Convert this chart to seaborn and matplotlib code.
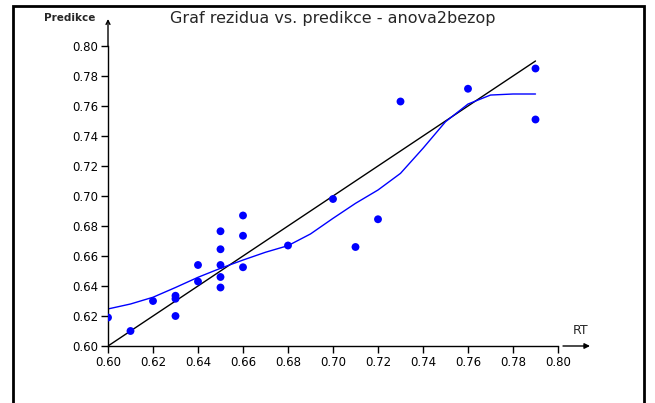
import matplotlib
matplotlib.use("Agg")
import matplotlib.pyplot as plt
import matplotlib.patches as mpatches
import numpy as np
import pandas as pd
import seaborn as sns

# pozorovane hodnoty RT a predikce
rt = [0.60, 0.61, 0.62, 0.63, 0.63, 0.63, 0.64, 0.64,
      0.65, 0.65, 0.65, 0.65, 0.65, 0.66, 0.66, 0.66,
      0.68, 0.70, 0.71, 0.72, 0.73, 0.76, 0.79, 0.79]
predikce = [0.619, 0.610, 0.630, 0.6335, 0.6315, 0.620, 0.654, 0.643,
            0.6765, 0.6645, 0.654, 0.646, 0.639, 0.687, 0.6735, 0.6525,
            0.667, 0.698, 0.666, 0.6845, 0.763, 0.7715, 0.785, 0.751]

# vyhlazena krivka
smooth_x = [0.60, 0.61, 0.62, 0.63, 0.64, 0.65, 0.66, 0.67, 0.68, 0.69,
            0.70, 0.71, 0.72, 0.73, 0.74, 0.75, 0.76, 0.77, 0.78, 0.79]
smooth_y = [0.6247, 0.628, 0.6325, 0.639, 0.6458, 0.6518, 0.6573, 0.6625, 0.6669, 0.6747,
            0.6851, 0.6951, 0.704, 0.7151, 0.7318, 0.7495, 0.7613, 0.7673, 0.768, 0.768]

# primka y = x
ident = [0.60, 0.79]

ticks = [0.60, 0.62, 0.64, 0.66, 0.68, 0.70, 0.72, 0.74, 0.76, 0.78, 0.80]

sns.set_style("ticks")
plt.rcParams['font.family'] = ['DejaVu Sans']

fig = plt.figure(figsize=(6.55, 4.03), dpi=100)
ax = fig.add_axes([108 / 655, 57 / 403, 450 / 655, 300 / 403])

df = pd.DataFrame({"RT": rt, "Predikce": predikce})
sm = pd.DataFrame({"x": smooth_x, "y": smooth_y})

sns.lineplot(x=ident, y=ident, color="black", lw=1, ax=ax)
sns.lineplot(data=sm, x="x", y="y", color="#0000ff", lw=1, ax=ax, sort=False)
sns.scatterplot(data=df, x="RT", y="Predikce", color="#0000ff", s=32, edgecolor="none", ax=ax, zorder=5)

ax.set_xlim(0.60, 0.80)
ax.set_ylim(0.60, 0.80)
ax.set_xticks(ticks)
ax.set_yticks(ticks)
ax.set_xticklabels([f"{t:.2f}" for t in ticks])
ax.set_yticklabels([f"{t:.2f}" for t in ticks])
ax.tick_params(labelsize=8.5, length=5, width=1, pad=2, colors="black")
ax.set_xlabel("")
ax.set_ylabel("")
sns.despine(ax=ax)
for s in ["left", "bottom"]:
    ax.spines[s].set_color("black")
    ax.spines[s].set_linewidth(1)

# sipky na osach
ax.annotate("", xy=(590 / 655, 57 / 403), xytext=(563 / 655, 57 / 403),
            xycoords="figure fraction",
            arrowprops=dict(arrowstyle="-|>", color="black", lw=1, mutation_scale=8,
                            shrinkA=0, shrinkB=0))
ax.annotate("", xy=(108 / 655, 384 / 403), xytext=(108 / 655, 357 / 403),
            xycoords="figure fraction",
            arrowprops=dict(arrowstyle="->", color="black", lw=1, mutation_scale=7,
                            shrinkA=0, shrinkB=0))

fig.text(581 / 655, 1 - 330 / 403, "RT", fontsize=9, ha="center", va="center")
fig.text(70 / 655, 1 - 18 / 403, "Predikce", fontsize=7.5, fontweight="bold", ha="center", va="center")
fig.text(333 / 655, 1 - 18 / 403, "Graf rezidua vs. predikce - anova2bezop", fontsize=11.5,
         ha="center", va="center")

# ramecek kolem grafu
fig.patches.append(mpatches.Rectangle((13 / 655, -0.1), 631 / 655, 1.1 - 6 / 403,
                                      transform=fig.transFigure, fill=False,
                                      edgecolor="black", lw=2))

fig.savefig("out.png", dpi=100)
